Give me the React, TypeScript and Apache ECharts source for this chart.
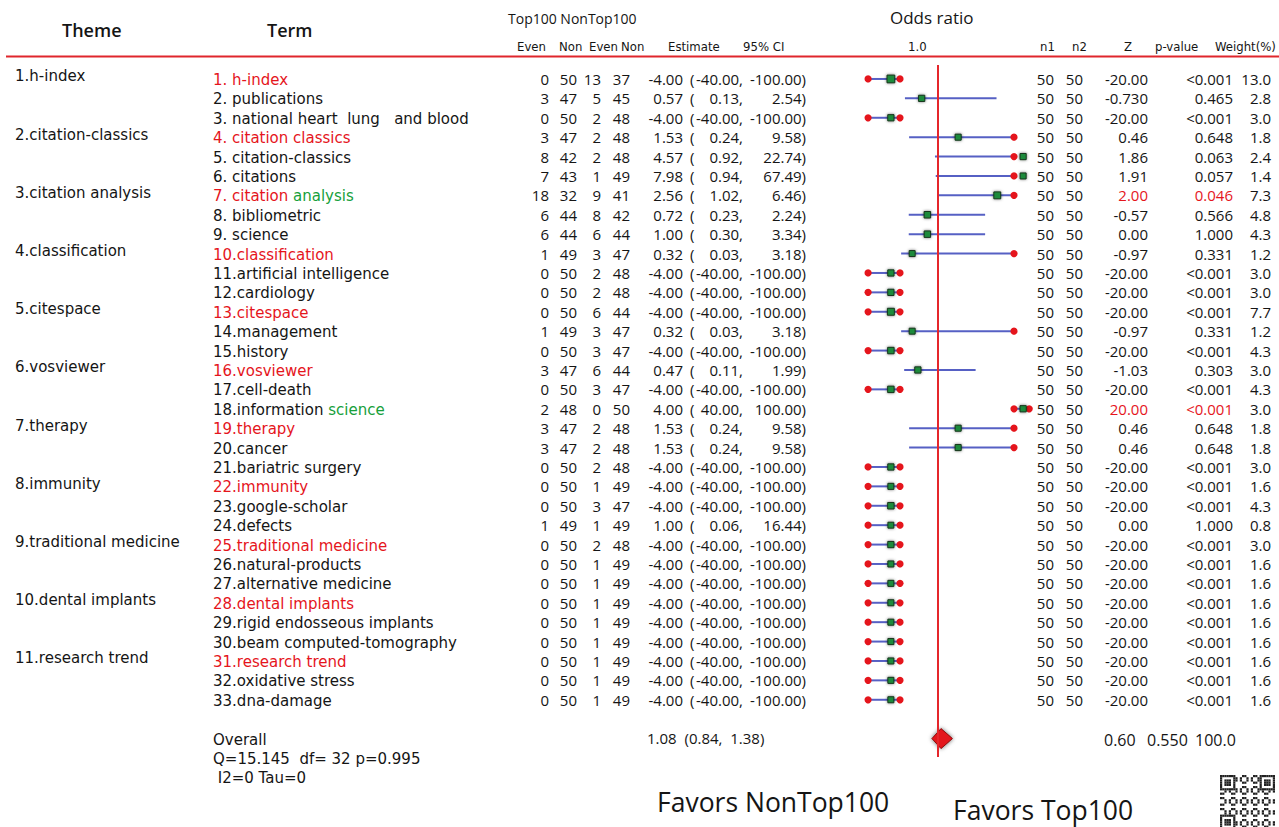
import React, { useEffect, useRef } from "react";
import * as echarts from "echarts";

// ---------------- data ----------------
const themes = [
  "1.h-index", "2.citation-classics", "3.citation analysis", "4.classification",
  "5.citespace", "6.vosviewer", "7.therapy", "8.immunity",
  "9.traditional medicine", "10.dental implants", "11.research trend",
];
const themeRows = [1, 4, 7, 10, 13, 16, 19, 22, 25, 28, 31];

const terms = [
  "1. h-index", "2. publications", "3. national heart  lung   and blood", "4. citation classics",
  "5. citation-classics", "6. citations", "7. citation analysis", "8. bibliometric", "9. science",
  "10.classification", "11.artificial intelligence", "12.cardiology", "13.citespace", "14.management",
  "15.history", "16.vosviewer", "17.cell-death", "18.information science", "19.therapy", "20.cancer",
  "21.bariatric surgery", "22.immunity", "23.google-scholar", "24.defects", "25.traditional medicine",
  "26.natural-products", "27.alternative medicine", "28.dental implants", "29.rigid endosseous implants",
  "30.beam computed-tomography", "31.research trend", "32.oxidative stress", "33.dna-damage",
];
// words printed in green inside a term (row -> word)
const greenWords: Record<number, string> = { 7: "analysis", 18: "science" };

const topEven = [0, 3, 0, 3, 8, 7, 18, 6, 6, 1, 0, 0, 0, 1, 0, 3, 0, 2, 3, 3, 0, 0, 0, 1, 0, 0, 0, 0, 0, 0, 0, 0, 0];
const topNon = [50, 47, 50, 47, 42, 43, 32, 44, 44, 49, 50, 50, 50, 49, 50, 47, 50, 48, 47, 47, 50, 50, 50, 49, 50, 50, 50, 50, 50, 50, 50, 50, 50];
const nonEven = [13, 5, 2, 2, 2, 1, 9, 8, 6, 3, 2, 2, 6, 3, 3, 6, 3, 0, 2, 2, 2, 1, 3, 1, 2, 1, 1, 1, 1, 1, 1, 1, 1];
const nonNon = [37, 45, 48, 48, 48, 49, 41, 42, 44, 47, 48, 48, 44, 47, 47, 44, 47, 50, 48, 48, 48, 49, 47, 49, 48, 49, 49, 49, 49, 49, 49, 49, 49];

const estimates = [-4, 0.57, -4, 1.53, 4.57, 7.98, 2.56, 0.72, 1.0, 0.32, -4, -4, -4, 0.32, -4, 0.47, -4, 4.0, 1.53, 1.53, -4, -4, -4, 1.0, -4, -4, -4, -4, -4, -4, -4, -4, -4];
const lowers = [-40, 0.13, -40, 0.24, 0.92, 0.94, 1.02, 0.23, 0.3, 0.03, -40, -40, -40, 0.03, -40, 0.11, -40, 40, 0.24, 0.24, -40, -40, -40, 0.06, -40, -40, -40, -40, -40, -40, -40, -40, -40];
const uppers = [-100, 2.54, -100, 9.58, 22.74, 67.49, 6.46, 2.24, 3.34, 3.18, -100, -100, -100, 3.18, -100, 1.99, -100, 100, 9.58, 9.58, -100, -100, -100, 16.44, -100, -100, -100, -100, -100, -100, -100, -100, -100];

const zValues = ["-20.00", "-0.730", "-20.00", "0.46", "1.86", "1.91", "2.00", "-0.57", "0.00", "-0.97", "-20.00", "-20.00", "-20.00", "-0.97", "-20.00", "-1.03", "-20.00", "20.00", "0.46", "0.46", "-20.00", "-20.00", "-20.00", "0.00", "-20.00", "-20.00", "-20.00", "-20.00", "-20.00", "-20.00", "-20.00", "-20.00", "-20.00"];
const pValues = ["<0.001", "0.465", "<0.001", "0.648", "0.063", "0.057", "0.046", "0.566", "1.000", "0.331", "<0.001", "<0.001", "<0.001", "0.331", "<0.001", "0.303", "<0.001", "<0.001", "0.648", "0.648", "<0.001", "<0.001", "<0.001", "1.000", "<0.001", "<0.001", "<0.001", "<0.001", "<0.001", "<0.001", "<0.001", "<0.001", "<0.001"];
const weights = [13.0, 2.8, 3.0, 1.8, 2.4, 1.4, 7.3, 4.8, 4.3, 1.2, 3.0, 3.0, 7.7, 1.2, 4.3, 3.0, 4.3, 3.0, 1.8, 1.8, 3.0, 1.6, 4.3, 0.8, 3.0, 1.6, 1.6, 1.6, 1.6, 1.6, 1.6, 1.6, 1.6];
const redStatRows = [7, 18];

// the picture plots two rows differently from their printed values
const plotOverrides: Record<number, [number, number, number]> = {
  9: [0.72, 0.23, 2.24],
  24: [-4, -40, -100],
};

const overall = { est: 1.08, lo: 0.84, hi: 1.38, z: "0.60", p: "0.550", w: "100.0" };
const heterogeneity = ["Overall", "Q=15.145  df= 32 p=0.995", " I2=0 Tau=0"];

// ---------------- styling ----------------
const FONT = '"Open Sans", "Noto Sans", sans-serif';
const WIDE = '"DejaVu Sans", "Open Sans", sans-serif';
const NARROW = '"Liberation Sans Narrow", "DejaVu Sans Condensed", "Open Sans", sans-serif';
const RED = "#e5151c";
const GREEN_TXT = "#16a03a";
const INK = "#151515";
const NUM_SIZE = 15;
const TERM_SIZE = 15;

const X_MIN = -1;
const X_MAX = 3;
const CLIP = 3; // right clip of the odds-ratio axis
const LEFT_MARK = { lo: -0.84, est: -0.24, hi: 0.0 }; // off-scale (left) marker
const RIGHT_MARK = { est: 3.24, hi: 3.4 }; // off-scale (right) marker

const COL = {
  theme: 15, term: 213, c1: 549, c2: 577, c3: 601, c4: 630,
  est: 683, paren: 690, lo: 743, hi: 806, n1: 1054, n2: 1083, z: 1148, p: 1233, w: 1271,
};

function termRich(row: number, text: string) {
  const isKey = themeRows.includes(row);
  const gw = greenWords[row];
  if (gw && text.endsWith(gw)) {
    const head = text.slice(0, text.length - gw.length);
    return `{${isKey ? "r" : "k"}|${head}}{g|${gw}}`;
  }
  return `{${isKey ? "r" : "k"}|${text}}`;
}

export default function App() {
  const ref = useRef<HTMLDivElement>(null);

  useEffect(() => {
    if (!ref.current) return;
    const chart = echarts.init(ref.current, undefined, { renderer: "svg" });

    const rowData = terms.map((_, i) => {
      const row = i + 1;
      const ov = plotOverrides[row];
      const e = ov ? ov[0] : estimates[i];
      const lo = ov ? ov[1] : lowers[i];
      const hi = ov ? ov[2] : uppers[i];
      return [i, e, lo, hi, weights[i]];
    });

    const txt = (text: string, x: number, y: number, align: string, fill = INK, size = NUM_SIZE, family = FONT) => ({
      type: "text",
      x,
      y,
      style: { text, fill, align, verticalAlign: "middle", fontSize: size, fontFamily: family },
    });

    const tableRender = (params: any, api: any) => {
      const i = api.value(0);
      const row = i + 1;
      const y = api.coord([1, i])[1];
      const statFill = redStatRows.includes(row) ? RED : INK;
      const children: any[] = [];
      const ti = themeRows.indexOf(row);
      if (ti >= 0) children.push(txt(themes[ti], COL.theme, y - 2.5, "left", INK, TERM_SIZE, WIDE));
      const rs = (fill: string) => ({ fill, fontSize: TERM_SIZE, fontFamily: WIDE, lineHeight: 17 });
      children.push({
        type: "text",
        x: COL.term,
        y: y + 1,
        style: {
          text: termRich(row, terms[i]),
          align: "left",
          verticalAlign: "middle",
          fontSize: TERM_SIZE,
          fontFamily: WIDE,
          lineHeight: 17,
          fill: INK,
          rich: { k: rs(INK), r: rs(RED), g: rs(GREEN_TXT) },
        },
      });
      children.push(txt(String(topEven[i]), COL.c1, y, "right"));
      children.push(txt(String(topNon[i]), COL.c2, y, "right"));
      children.push(txt(String(nonEven[i]), COL.c3, y, "right"));
      children.push(txt(String(nonNon[i]), COL.c4, y, "right"));
      children.push(txt(estimates[i].toFixed(2), COL.est, y, "right"));
      children.push(txt("(", COL.paren, y, "left"));
      children.push(txt(lowers[i].toFixed(2) + ",", COL.lo, y, "right"));
      children.push(txt(uppers[i].toFixed(2) + ")", COL.hi, y, "right"));
      children.push(txt("50", COL.n1, y, "right"));
      children.push(txt("50", COL.n2, y, "right"));
      children.push(txt(zValues[i], COL.z, y, "right", statFill));
      children.push(txt(pValues[i], COL.p, y, "right", statFill));
      children.push(txt(weights[i].toFixed(1), COL.w, y, "right"));
      return { type: "group", children };
    };

    const forestRender = (params: any, api: any) => {
      const i = api.value(0);
      const e = api.value(1);
      const lo = api.value(2);
      const hi = api.value(3);
      const w = api.value(4);
      const y = api.coord([1, i])[1];
      const px = (v: number) => api.coord([v, i])[0];
      let from: number, to: number, sq: number;
      const dots: number[] = [];
      if (e < X_MIN) {
        from = LEFT_MARK.lo; to = LEFT_MARK.hi; sq = LEFT_MARK.est;
        dots.push(LEFT_MARK.lo, LEFT_MARK.hi);
      } else if (lo > CLIP) {
        from = CLIP; to = RIGHT_MARK.hi; sq = RIGHT_MARK.est;
        dots.push(CLIP, RIGHT_MARK.hi);
      } else {
        from = lo; to = Math.min(hi, CLIP);
        if (hi > CLIP) dots.push(CLIP);
        sq = e > CLIP ? RIGHT_MARK.est : e;
      }
      const size = 5.8 + w * 0.15;
      const children: any[] = [
        {
          type: "line",
          shape: { x1: px(from), y1: y, x2: px(to), y2: y },
          style: { stroke: "#5660c4", lineWidth: 2 },
        },
        ...dots.map((d) => ({
          type: "circle",
          shape: { cx: px(d), cy: y, r: 3.6 },
          style: { fill: RED },
        })),
        {
          type: "rect",
          shape: { x: px(sq) - size / 2, y: y - size / 2, width: size, height: size },
          style: {
            fill: "#1f8a3b",
            stroke: "#16361c",
            lineWidth: 1,
            shadowBlur: 3,
            shadowColor: "rgba(0,0,0,0.55)",
          },
        },
      ];
      return { type: "group", children };
    };

    const diamondRender = (params: any, api: any) => {
      const r = api.value(0);
      const e = api.value(1);
      const lo = api.value(2);
      const hi = api.value(3);
      const y = api.coord([1, r])[1];
      const px = (v: number) => api.coord([v, r])[0];
      return {
        type: "polygon",
        shape: { points: [[px(lo), y], [px(e), y - 10], [px(hi), y], [px(e), y + 10]] },
        style: { fill: "#e3151b", stroke: "#8a0a0a", lineWidth: 1, shadowBlur: 4, shadowColor: "rgba(0,0,0,0.6)" },
      };
    };

    // decorative QR-like block
    const qr: any[] = [];
    const N = 25;
    const m = 2.2;
    const finder = (r: number, c: number) => {
      const inF = (fr: number, fc: number) => {
        const dr = r - fr, dc = c - fc;
        if (dr < 0 || dc < 0 || dr > 6 || dc > 6) return null;
        if (dr === 0 || dr === 6 || dc === 0 || dc === 6) return true;
        if (dr >= 2 && dr <= 4 && dc >= 2 && dc <= 4) return true;
        return false;
      };
      const a = inF(0, 0), b = inF(0, N - 7), d = inF(N - 7, 0);
      if (a !== null) return a;
      if (b !== null) return b;
      if (d !== null) return d;
      return null;
    };
    for (let r = 0; r < N; r++) {
      for (let c = 0; c < N; c++) {
        const f = finder(r, c);
        const on = f !== null ? f : ((r * 7 + c * 11 + r * c) % 5) < 2;
        if (on) qr.push({ type: "rect", shape: { x: c * m, y: r * m, width: m, height: m }, style: { fill: "#222" } });
      }
    }

    const headerText = (text: string, x: number, y: number, size: number, family = FONT, weight: any = "normal") => ({
      type: "text",
      left: x,
      top: y - size * 0.68,
      style: { text, fill: INK, fontSize: size, fontFamily: family, fontWeight: weight },
    });

    const option: any = {
      animation: false,
      backgroundColor: "#ffffff",
      grid: { left: 862, width: 152, top: 65, height: 692 },
      xAxis: { type: "value", min: X_MIN, max: X_MAX, show: false },
      yAxis: { type: "value", inverse: true, min: -0.72, max: 34.95, show: false },
      graphic: [
        {
          type: "line",
          shape: { x1: 6, y1: 56.5, x2: 1279, y2: 56.5 },
          style: { stroke: "#e0262c", lineWidth: 2 },
        },
        headerText("Theme", 62, 33, 18, FONT, 600),
        headerText("Term", 267, 33, 18, FONT, 600),
        headerText("Top100 NonTop100", 508, 21, 14),
        headerText("Even", 517, 49, 13, NARROW),
        headerText("Non", 559, 49, 13, NARROW),
        headerText("Even", 589, 49, 13, NARROW),
        headerText("Non", 621, 49, 13, NARROW),
        headerText("Estimate", 668, 49, 13, NARROW),
        headerText("95% CI", 743, 49, 13, NARROW),
        headerText("Odds ratio", 890, 21, 17),
        headerText("1.0", 908, 49, 13, NARROW),
        headerText("n1", 1040, 49, 13, NARROW),
        headerText("n2", 1072, 49, 13, NARROW),
        headerText("Z", 1124, 49, 13, NARROW),
        headerText("p-value", 1155, 49, 13, NARROW),
        headerText("Weight(%)", 1215, 49, 13, NARROW),
        {
          type: "text",
          left: 213,
          top: 730,
          style: {
            text: heterogeneity.join("\n"),
            fill: INK,
            fontSize: 15,
            lineHeight: 19,
            fontFamily: WIDE,
          },
        },
        headerText(
          `${overall.est.toFixed(2)}  (${overall.lo.toFixed(2)},  ${overall.hi.toFixed(2)})`,
          647, 741, 15
        ),
        headerText(overall.z, 1104, 743, 16),
        headerText(overall.p, 1147, 743, 16),
        headerText(overall.w, 1195, 743, 16),
        headerText("Favors NonTop100", 657, 807, 26.5),
        headerText("Favors Top100", 953, 815, 26.5),
        { type: "group", left: 1220, top: 775, children: qr },
      ],
      series: [
        {
          type: "custom",
          name: "table",
          clip: false,
          silent: true,
          renderItem: tableRender,
          data: rowData,
          encode: { x: 1, y: 0 },
        },
        {
          type: "custom",
          name: "forest",
          clip: false,
          silent: true,
          renderItem: forestRender,
          data: rowData,
          encode: { x: 1, y: 0 },
          markLine: {
            silent: true,
            symbol: "none",
            label: { show: false },
            lineStyle: { color: "#e5262b", width: 2, type: "solid" },
            data: [{ xAxis: 1 }],
          },
          z: 3,
        },
        {
          type: "custom",
          name: "overall",
          clip: false,
          silent: true,
          renderItem: diamondRender,
          data: [[34, overall.est, overall.lo, overall.hi]],
          encode: { x: 1, y: 0 },
          z: 4,
        },
      ],
    };

    chart.setOption(option);
    return () => chart.dispose();
  }, []);

  return (
    <div
      ref={ref}
      style={{ position: "fixed", left: 0, top: 0, width: 1279, height: 827, background: "#fff" }}
    />
  );
}
